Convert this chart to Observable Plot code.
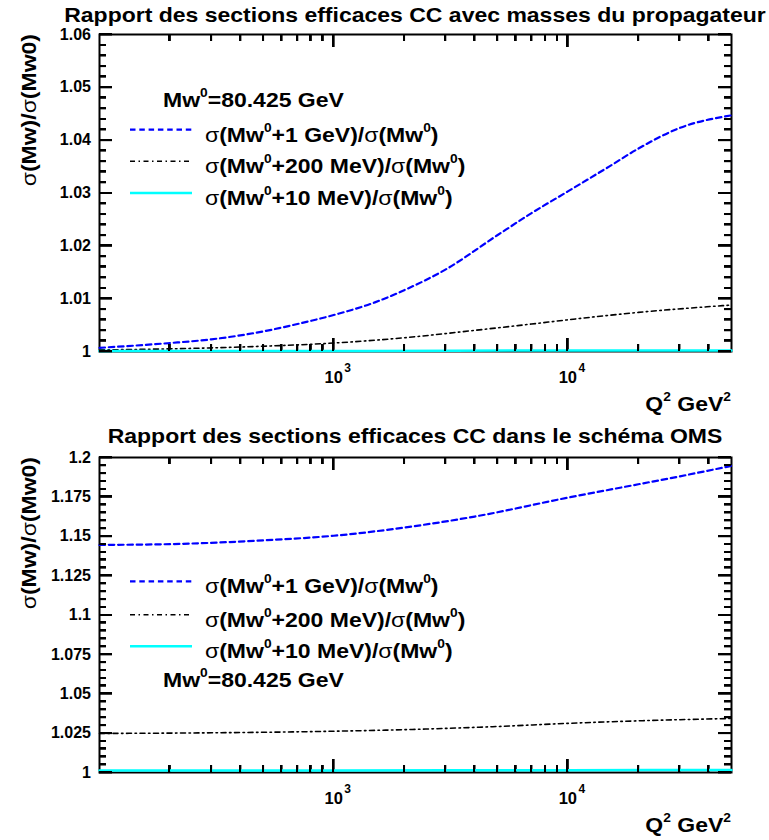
<!DOCTYPE html>
<html><head><meta charset="utf-8">
<script src="https://cdn.jsdelivr.net/npm/d3@7"></script>
<script src="https://cdn.jsdelivr.net/npm/@observablehq/plot@0.6"></script>
<style>
html,body{margin:0;padding:0;background:#fff;}
#wrap{position:relative;width:769px;height:840px;overflow:hidden;background:#fff;}
#wrap svg{position:absolute;left:0;}
</style></head><body><div id="wrap"></div>
<script>
// ---------- data ----------
const xDomain = [100, 50000];
const xMajorTicks = [1000, 10000];
const xMajorBase = ["10", "10"];
const xMajorExp = ["3", "4"];
const xMinorTicks = [200,300,400,500,600,700,800,900,2000,3000,4000,5000,6000,7000,8000,9000,20000,30000,40000];

// top panel: propagator masses
const topTitle = "Rapport des sections efficaces CC avec masses du propagateur";
const topYMajor = [1, 1.01, 1.02, 1.03, 1.04, 1.05, 1.06];
const topYLabels = ["1", "1.01", "1.02", "1.03", "1.04", "1.05", "1.06"];
const topYMinor = [1.002,1.004,1.006,1.008,1.012,1.014,1.016,1.018,1.022,1.024,1.026,1.028,1.032,1.034,1.036,1.038,1.042,1.044,1.046,1.048,1.052,1.054,1.056,1.058];
const topQ2_1GeV = [100,140,200,300,500,700,1000,1500,2000,3000,5000,7000,10000,15000,20000,30000,50000];
const topR_1GeV  = [1.0007,1.0011,1.0016,1.0023,1.0038,1.0052,1.0069,1.0093,1.0116,1.0155,1.0220,1.0262,1.0303,1.0350,1.0384,1.0423,1.0447];
const topQ2_200MeV = [100,200,500,1000,2000,4000,7000,10000,20000,50000];
const topR_200MeV  = [1.0003,1.0005,1.0010,1.0016,1.0026,1.0040,1.0052,1.0060,1.0074,1.0088];
const topQ2_10MeV = [100,1000,10000,50000];
const topR_10MeV  = [1.0001,1.0001,1.0002,1.0002];

// bottom panel: OMS scheme
const botTitle = "Rapport des sections efficaces CC dans le schéma OMS";
const botYMajor = [1, 1.025, 1.05, 1.075, 1.1, 1.125, 1.15, 1.175, 1.2];
const botYLabels = ["1", "1.025", "1.05", "1.075", "1.1", "1.125", "1.15", "1.175", "1.2"];
const botYMinor = [1.005,1.01,1.015,1.02,1.03,1.035,1.04,1.045,1.055,1.06,1.065,1.07,1.08,1.085,1.09,1.095,1.105,1.11,1.115,1.12,1.13,1.135,1.14,1.145,1.155,1.16,1.165,1.17,1.18,1.185,1.19,1.195];
const botQ2_1GeV = [100,200,500,1000,2000,4000,10000,20000,30000,50000];
const botR_1GeV  = [1.1445,1.1450,1.1474,1.1503,1.1555,1.1625,1.1745,1.1830,1.1880,1.1947];
const botQ2_200MeV = [100,300,1000,2000,5000,10000,20000,50000];
const botR_200MeV  = [1.0248,1.0252,1.0262,1.0272,1.0292,1.0312,1.0328,1.0343];
const botQ2_10MeV = [100,1000,10000,50000];
const botR_10MeV  = [1.0012,1.0013,1.0015,1.0016];

const legendLabels = ["σ(Mw^{0}+1 GeV)/σ(Mw^{0})", "σ(Mw^{0}+200 MeV)/σ(Mw^{0})", "σ(Mw^{0}+10 MeV)/σ(Mw^{0})"];
const legendHeader = "Mw^{0}=80.425 GeV";
const yLabel = "σ(Mw)/σ(Mw0)";
const xLabel = "Q^{2} GeV^{2}";

// ---------- styles ----------
const FONT = "'Liberation Sans', Arial, Helvetica, sans-serif";
const SX = 1.15;
const styles = [
  {stroke: "#0000ff", width: 2.2, dash: "5.5,3.8"},
  {stroke: "#000000", width: 1.6, dash: "5,3.5,1.5,3.5"},
  {stroke: "#00ffff", width: 2.5, dash: null}
];

function zip(q, r) { return q.map((d, i) => ({q2: d, r: r[i]})); }

function richText(svg, str, {x, y, size = 20, anchor = "start", rotate = 0, rise = 0.5, supScale = 0.6}) {
  const t = svg.append("text")
    .attr("transform", `translate(${x},${y})${rotate ? ` rotate(${rotate})` : ""} scale(${SX},1)`)
    .attr("text-anchor", anchor).attr("font-size", size).attr("font-weight", "bold")
    .attr("font-family", FONT).attr("fill", "black");
  const re = /\^\{([^}]*)\}|σ|[^\^σ]+/g;
  let m, raised = false;
  while ((m = re.exec(str))) {
    if (m[1] !== undefined) {
      t.append("tspan").attr("font-size", size * supScale).attr("dy", -size * rise).text(m[1]);
      raised = true;
    } else {
      const ts = t.append("tspan").text(m[0]);
      if (raised) { ts.attr("dy", size * rise); raised = false; }
      if (m[0] === "σ") ts.attr("font-weight", "normal");
    }
  }
}

function stretch(svg, label) {
  svg.selectAll(`g[aria-label="${label}"] text`).each(function () {
    const tr = this.getAttribute("transform") || "";
    this.setAttribute("transform", tr + ` scale(${SX},1)`);
  });
}

function panel(cfg) {
  const W = 769, H = 420, ml = 99, mr = 38;
  const fw = W - ml - mr;
  const fh = H - cfg.marginTop - cfg.marginBottom;
  const x0 = ml, x1 = W - mr, y0 = cfg.marginTop, y1 = H - cfg.marginBottom;
  const MAJ = 13, MIN = 7;
  const series = [zip(cfg.q1, cfg.r1), zip(cfg.q2, cfg.r2), zip(cfg.q3, cfg.r3)];
  const svgNode = Plot.plot({
    width: W, height: H, marginLeft: ml, marginRight: mr,
    marginTop: cfg.marginTop, marginBottom: cfg.marginBottom,
    style: {fontFamily: FONT, background: "white", color: "black"},
    x: {type: "log", domain: xDomain, axis: null},
    y: {domain: cfg.yDomain, axis: null},
    marks: [
      // inward ticks on all four sides
      Plot.tickY(cfg.yMajor, {y: d => d, insetRight: fw - MAJ, stroke: "#000", strokeWidth: 2}),
      Plot.tickY(cfg.yMajor, {y: d => d, insetLeft: fw - MAJ, stroke: "#000", strokeWidth: 2}),
      Plot.tickY(cfg.yMinor, {y: d => d, insetRight: fw - MIN, stroke: "#000", strokeWidth: 1.8}),
      Plot.tickY(cfg.yMinor, {y: d => d, insetLeft: fw - MIN, stroke: "#000", strokeWidth: 1.8}),
      Plot.tickX(xMajorTicks, {x: d => d, insetTop: fh - MAJ, stroke: "#000", strokeWidth: 2}),
      Plot.tickX(xMajorTicks, {x: d => d, insetBottom: fh - MAJ, stroke: "#000", strokeWidth: 2}),
      Plot.tickX(xMinorTicks, {x: d => d, insetTop: fh - MIN, stroke: "#000", strokeWidth: 1.8}),
      Plot.tickX(xMinorTicks, {x: d => d, insetBottom: fh - MIN, stroke: "#000", strokeWidth: 1.8}),
      Plot.frame({stroke: "black", strokeWidth: 2}),
      // y tick labels
      Plot.text(cfg.yMajor, {y: d => d, text: (d, i) => cfg.yLabels[i], frameAnchor: "left", textAnchor: "end",
        dx: -8.5, fontSize: 16, fontWeight: "bold", fill: "black", ariaLabel: "ylab"}),
      // x tick labels 10^n
      Plot.text(xMajorTicks, {x: d => d, text: (d, i) => xMajorBase[i], frameAnchor: "bottom", lineAnchor: "bottom",
        dy: 31, fontSize: 16.5, fontWeight: "bold", fill: "black", ariaLabel: "xlab"}),
      Plot.text(xMajorTicks, {x: d => d, text: (d, i) => xMajorExp[i], frameAnchor: "bottom", lineAnchor: "bottom",
        dx: 14, dy: 20, fontSize: 12, fontWeight: "bold", fill: "black", ariaLabel: "xexp"}),
      // curves
      ...series.map((s, k) => Plot.line(s, {x: "q2", y: "r", stroke: styles[k].stroke, strokeWidth: styles[k].width,
        strokeDasharray: styles[k].dash, curve: "monotone-x"}))
    ]
  });
  const svg = d3.select(svgNode).style("top", cfg.top + "px");
  stretch(svg, "ylab"); stretch(svg, "xlab"); stretch(svg, "xexp");

  // title
  richText(svg, cfg.title, {x: ml + fw / 2, y: cfg.titleY, anchor: "middle", size: 20});
  // y label
  richText(svg, yLabel, {x: 36, y: cfg.marginTop, anchor: "end", rotate: -90, size: 20});
  // x label
  richText(svg, xLabel, {x: W - mr, y: H - cfg.marginBottom + 60, anchor: "end", size: 20, rise: 0.52});
  // legend
  const lg = cfg.legend;
  richText(svg, legendHeader, {x: lg.headerX, y: lg.headerY, size: 20});
  legendLabels.forEach((lab, k) => {
    const by = lg.rows[k];
    svg.append("line").attr("x1", 130).attr("x2", 192).attr("y1", by - 12).attr("y2", by - 12)
      .attr("stroke", styles[k].stroke).attr("stroke-width", styles[k].width)
      .attr("stroke-dasharray", styles[k].dash);
    richText(svg, lab, {x: 205, y: by, size: 20});
  });
  document.getElementById("wrap").appendChild(svgNode);

  // overlay of the inward ticks, positioned through Plot's own scales
  const X = svgNode.scale("x"), Y = svgNode.scale("y");
  const ov = d3.select("#wrap").append("svg")
    .attr("width", W).attr("height", H).style("top", cfg.top + "px").style("pointer-events", "none");
  const tg = ov.append("g").attr("stroke", "#000").attr("shape-rendering", "crispEdges");
  const hTick = (v, len, w) => {
    const y = Y.apply(v);
    tg.append("line").attr("x1", x0).attr("x2", x0 + len).attr("y1", y).attr("y2", y).attr("stroke-width", w);
    tg.append("line").attr("x1", x1 - len).attr("x2", x1).attr("y1", y).attr("y2", y).attr("stroke-width", w);
  };
  const vTick = (v, len, w) => {
    const x = X.apply(v);
    tg.append("line").attr("x1", x).attr("x2", x).attr("y1", y1 - len).attr("y2", y1).attr("stroke-width", w);
    tg.append("line").attr("x1", x).attr("x2", x).attr("y1", y0).attr("y2", y0 + len).attr("stroke-width", w);
  };
  cfg.yMajor.forEach(v => hTick(v, MAJ, 2));
  cfg.yMinor.forEach(v => hTick(v, MIN, 2));
  xMajorTicks.forEach(v => vTick(v, MAJ, 2));
  xMinorTicks.forEach(v => vTick(v, MIN, 2));
}

panel({
  top: 0, marginTop: 34, marginBottom: 69, yDomain: [1, 1.06],
  yMajor: topYMajor, yLabels: topYLabels, yMinor: topYMinor,
  q1: topQ2_1GeV, r1: topR_1GeV, q2: topQ2_200MeV, r2: topR_200MeV, q3: topQ2_10MeV, r3: topR_10MeV,
  title: topTitle, titleY: 21.5,
  legend: {headerX: 163, headerY: 106.7, rows: [141.7, 173.3, 205]}
});
panel({
  top: 420, marginTop: 37, marginBottom: 68, yDomain: [1, 1.2],
  yMajor: botYMajor, yLabels: botYLabels, yMinor: botYMinor,
  q1: botQ2_1GeV, r1: botR_1GeV, q2: botQ2_200MeV, r2: botR_200MeV, q3: botQ2_10MeV, r3: botR_10MeV,
  title: botTitle, titleY: 23.3,
  legend: {headerX: 163, headerY: 266.7, rows: [173.3, 206.7, 238.3]}
});
</script></body></html>
